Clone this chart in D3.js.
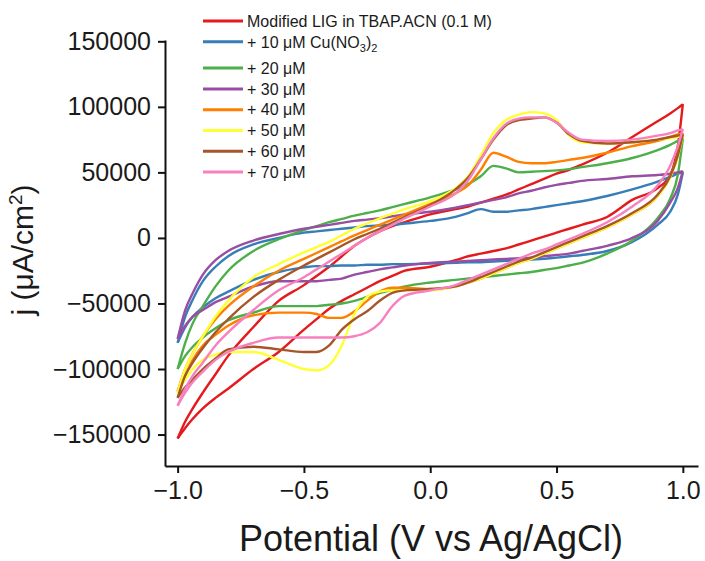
<!DOCTYPE html>
<html>
<head>
<meta charset="utf-8">
<script src="https://cdnjs.cloudflare.com/ajax/libs/d3/7.8.5/d3.min.js"></script>
<style>
  body { margin: 0; background: #fff; }
  svg text { font-family: "Liberation Sans", Arial, sans-serif; fill: #1a1a1a; }
</style>
</head>
<body>
<div id="chart"></div>
<script>
// Potential grid (V vs Ag/AgCl), shared by every scan
const potential = [-1.0, -0.97, -0.94, -0.9, -0.85, -0.8, -0.7, -0.6, -0.5, -0.45, -0.4, -0.35, -0.3, -0.25, -0.2, -0.15, -0.1, 0,
  0.1, 0.15, 0.2, 0.25, 0.3, 0.35, 0.4, 0.45, 0.5, 0.55, 0.6, 0.7, 0.8, 0.9, 0.95, 0.98, 1.0];

// Current density in thousands of uA/cm2: forward (upper) and reverse (lower) branch
const redUp = [-153, -140, -130, -118, -104, -90, -68, -48, -36, -29, -22, -14, -6, 0, 5, 9, 12, 18, 22, 24, 27, 30, 33, 37, 41, 45, 49, 52, 56, 65, 77, 89, 95, 99, 102];
const redDown = [-153, -145, -138, -130, -122, -115, -100, -87, -70, -62, -54, -48, -43, -38, -33, -29, -25, -22, -17, -14, -12, -10, -8, -5, -2, 1, 4, 7, 10, 16, 29, 38, 48, 70, 102];
const blueUp = [-80, -60, -47, -33, -22, -14, -5, 0, 4, 5, 6, 7, 8, 9, 9.5, 10, 11, 13, 16, 19, 22, 20, 20, 21, 22, 23.5, 25, 26.5, 28, 32, 37, 43, 46.5, 49, 50];
const blueDown = [-80, -68, -60, -53, -46, -41, -32, -26, -22.5, -21.5, -21.5, -21, -21, -20.5, -20.5, -20, -20, -19.5, -19, -18.5, -18.5, -18, -17.5, -17, -16.5, -16, -15, -14, -13, -10, -3, 10, 20, 33, 50];
const greenUp = [-100, -80, -65, -52, -37, -25, -10, -1, 6, 9, 12, 14.5, 17, 19, 21, 23.5, 26, 31, 37, 41, 47, 55, 53, 50, 50.5, 51, 51.5, 52.5, 54, 57, 61, 67, 71, 74, 76];
const greenDown = [-100, -90, -83, -76, -69, -63, -57, -52, -52, -52, -51, -50, -48, -45, -42, -39.5, -37, -34, -32, -31, -30, -29, -28, -27, -26, -24.5, -23, -21, -19, -12, -2, 15, 30, 48, 76];
const purpleUp = [-77, -55, -42, -28, -17, -10, -2, 3, 7, 8.5, 10, 11.5, 13, 14, 15, 16.5, 18, 20, 23, 25, 27, 29, 31, 34, 36, 38.5, 40.5, 42, 43.5, 45, 47, 48, 49, 50, 51];
const purpleDown = [-77, -67, -60, -55, -49, -45, -37, -33, -33, -33, -32, -31, -28, -26, -24, -22.5, -21, -19, -18, -17.5, -17, -16.5, -16, -15.5, -15, -14, -13, -12, -10, -6, 0, 13, 27, 38, 51];
const orangeUp = [-117, -100, -88, -75, -62, -52, -37, -25, -16, -11.5, -7, -2.5, 2, 6, 10, 14, 18, 26, 34, 40, 52, 65, 62, 58, 57, 57, 58, 59.5, 61, 65, 70, 74, 77, 79, 80];
const orangeDown = [-117, -105, -93, -82, -74, -67, -59, -57, -57, -58, -61, -61, -56, -48, -41, -38, -38, -39, -37, -34, -31, -27, -23, -19, -16, -12, -8, -4, 0, 8, 18, 32, 47, 63, 80];
const yellowUp = [-118, -100, -88, -75, -60, -48, -30, -20, -11, -7, -3, 2, 7, 11, 15, 18.5, 22, 28, 38, 47, 63, 80, 90, 94, 96, 95, 90, 78, 73, 72, 73, 75, 76, 77, 78];
const yellowDown = [-118, -108, -100, -93, -89, -87, -87, -93, -100, -101, -97, -82, -58, -45, -41, -40, -40, -40, -37, -34, -31, -27, -23, -19, -16, -12, -8, -4, 0, 8, 18, 32, 46, 62, 78];
const brownUp = [-122, -105, -95, -84, -72, -62, -45, -32, -21, -16, -11, -6, -1, 3, 7, 11.5, 16, 25, 37, 46, 60, 75, 86, 90, 91, 92, 88, 79, 74, 72, 73, 75, 77, 78, 79];
const brownDown = [-122, -114, -108, -100, -92, -85, -83, -85, -87, -87, -82, -70, -62, -56, -48, -42, -40, -39, -37, -34, -30, -26, -22, -18, -15, -11, -7, -3, 1, 9, 19, 33, 47, 63, 79];
const pinkUp = [-128, -115, -105, -95, -82, -72, -55, -40, -30, -24, -18, -12, -6, 0, 5, 10, 15, 24, 34, 44, 60, 76, 87, 91, 92, 92, 88, 80, 75, 74, 75, 78, 80, 82, 83];
const pinkDown = [-128, -118, -110, -102, -93, -87, -80, -76, -76, -76, -76, -76, -75, -72, -65, -52, -44, -40, -36, -32, -28, -24, -20, -16, -12, -9, -5, -1, 3, 12, 24, 40, 55, 70, 83];

const labels = ['Modified LIG in TBAP.ACN (0.1 M)', '+ 10 \u03bcM Cu(NO', '+ 20 \u03bcM', '+ 30 \u03bcM',
  '+ 40 \u03bcM', '+ 50 \u03bcM', '+ 60 \u03bcM', '+ 70 \u03bcM'];
const colors = ['#e41a1c', '#377eb8', '#4daf4a', '#984ea3', '#ff7f00', '#ffff33', '#a65628', '#f781bf'];
const ups = [redUp, blueUp, greenUp, purpleUp, orangeUp, yellowUp, brownUp, pinkUp];
const downs = [redDown, blueDown, greenDown, purpleDown, orangeDown, yellowDown, brownDown, pinkDown];

const xTicks = [-1.0, -0.5, 0.0, 0.5, 1.0];
const yTicks = [-150000, -100000, -50000, 0, 50000, 100000, 150000];

const width = 705;
const height = 561;

const svg = d3.select('#chart')
  .append('svg')
  .attr('width', width)
  .attr('height', height);

const x = d3.scaleLinear().domain([-1.05, 1.06]).range([165, 698]);
const y = d3.scaleLinear().domain([-174000, 151000]).range([466, 40]);

// Scans: each branch drawn separately so the turning points stay sharp
const line = d3.line()
  .x((d) => x(d[0]))
  .y((d) => y(d[1] * 1000))
  .curve(d3.curveMonotoneX);

const scans = svg.append('g');
labels.forEach((lab, i) => {
  [ups[i], downs[i]].forEach((branch) => {
    scans.append('path')
      .datum(potential.map((v, k) => [v, branch[k]]))
      .attr('d', line)
      .attr('fill', 'none')
      .attr('stroke', colors[i])
      .attr('stroke-width', 2.4)
      .attr('stroke-linejoin', 'round');
  });
});

// Axes
const xAxis = svg.append('g')
  .attr('transform', `translate(0,${466})`)
  .call(d3.axisBottom(x).tickValues(xTicks).tickFormat(d3.format('.1f'))
    .tickSize(7).tickSizeOuter(0).tickPadding(8));

const yAxis = svg.append('g')
  .attr('transform', `translate(${165},0)`)
  .call(d3.axisLeft(y).tickValues(yTicks).tickFormat(d3.format('d'))
    .tickSize(7).tickSizeOuter(0).tickPadding(7));

[xAxis, yAxis].forEach((g) => {
  g.select('.domain').attr('stroke', '#111').attr('stroke-width', 2);
  g.selectAll('.tick line').attr('stroke', '#111').attr('stroke-width', 2);
  g.selectAll('.tick text')
    .attr('fill', '#1a1a1a')
    .style('font-size', '25px')
    .style('font-family', '"Liberation Sans", Arial, sans-serif');
});

// Axis titles
svg.append('text')
  .attr('x', 431)
  .attr('y', 551)
  .attr('text-anchor', 'middle')
  .style('font-size', '36px')
  .text('Potential (V vs Ag/AgCl)');

const yTitle = svg.append('text')
  .attr('transform', 'translate(33,250) rotate(-90)')
  .attr('text-anchor', 'middle')
  .style('font-size', '30px');
yTitle.append('tspan').text('j (\u03bcA/cm');
yTitle.append('tspan').attr('dy', -11).style('font-size', '19px').text('2');
yTitle.append('tspan').attr('dy', 11).text(')');

// Legend
const legend = svg.append('g');
labels.forEach((lab, i) => {
  const ly = 21 + i * 20.8 + (i >= 2 ? 5.5 : 0);
  legend.append('line')
    .attr('x1', 203).attr('x2', 243)
    .attr('y1', ly).attr('y2', ly)
    .attr('stroke', colors[i])
    .attr('stroke-width', 3);
  const t = legend.append('text')
    .attr('x', 247)
    .attr('y', ly)
    .attr('dy', '0.36em')
    .style('font-size', '16px');
  t.append('tspan').text(lab);
  if (i === 1) {
    t.append('tspan').attr('dy', 4).style('font-size', '11px').text('3');
    t.append('tspan').attr('dy', -4).text(')');
    t.append('tspan').attr('dy', 4).style('font-size', '11px').text('2');
  }
});
</script>
</body>
</html>
